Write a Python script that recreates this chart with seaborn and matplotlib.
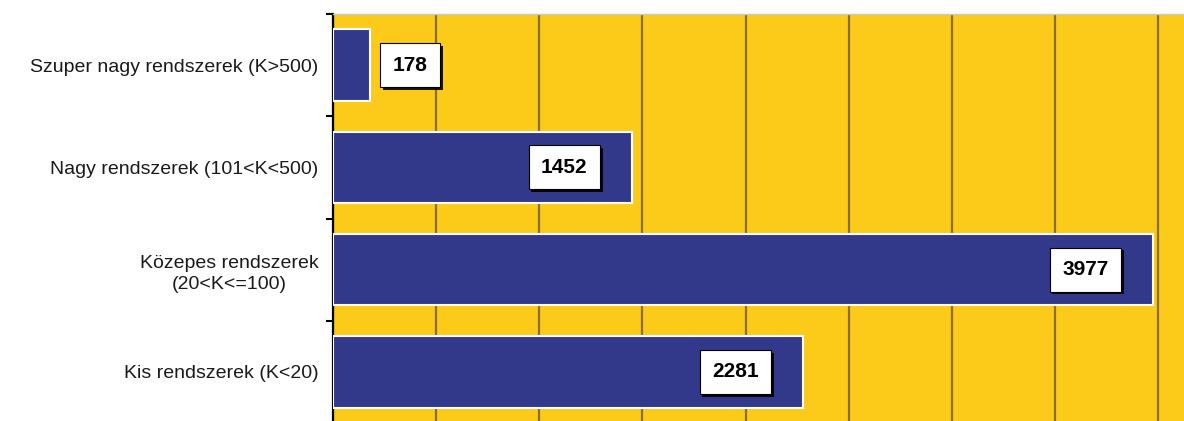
import matplotlib
matplotlib.use("Agg")
import matplotlib.pyplot as plt
import matplotlib.patheffects as pe
import numpy as np
import pandas as pd
import seaborn as sns

# adatok
categories = ["Szuper nagy rendszerek (K>500)",
              "Nagy rendszerek (101<K<500)",
              "Közepes rendszerek\n(20<K<=100)",
              "Kis rendszerek (K<20)"]
values = [178, 1452, 3977, 2281]
grid_step = 500
x_max = 4126

df = pd.DataFrame({"kategoria": categories, "db": values})

sns.set_style("white")
plt.rcParams["font.family"] = ["Liberation Sans", "DejaVu Sans"]

fig = plt.figure(figsize=(11.84, 4.21), dpi=100)
ax = fig.add_axes([333 / 1184, -2 / 421, 1 - 333 / 1184, 409 / 421])
ax.set_facecolor("#FCCB1A")

sns.barplot(data=df, x="db", y="kategoria", orient="h", color="#33398A",
            saturation=1, width=0.7, edgecolor="white", linewidth=1.5,
            ax=ax, zorder=3)

# racsvonalak
ax.set_xticks(np.arange(0, x_max, grid_step))
ax.set_xlim(0, x_max)
ax.xaxis.grid(True, color="#8A6E2A", linewidth=1.6)
ax.set_axisbelow(True)
ax.tick_params(axis="x", length=0, labelbottom=False)
ax.set_xlabel("")
ax.set_ylabel("")

# y tengely
ax.set_ylim(len(categories) - 0.5, -0.5)
ax.set_yticks(np.arange(-0.5, len(categories), 1), minor=True)
ax.tick_params(axis="y", which="major", left=False, pad=7,
               labelsize=14, labelcolor="#1a1a1a")
ax.tick_params(axis="y", which="minor", left=True, length=5, width=1.5,
               color="black", direction="out")
for lab in ax.get_yticklabels():
    lab.set_multialignment("center")
    lab.set_linespacing(1.35)

for side in ["right", "bottom"]:
    ax.spines[side].set_visible(False)
ax.spines["left"].set_color("black")
ax.spines["left"].set_linewidth(1.6)
ax.spines["top"].set_color("#C8C8C8")
ax.spines["top"].set_linewidth(1)

# ertekcimkek
for i, v in enumerate(values):
    off = -49 if v > 1000 else 29
    t = ax.annotate(f"{v}", xy=(v, i), xytext=(off, 0),
                    textcoords="offset points", ha="center", va="center",
                    fontsize=15, fontweight="bold", color="black",
                    bbox=dict(boxstyle="square,pad=0.6", fc="white",
                              ec="black", lw=0.8),
                    zorder=5)
    t.get_bbox_patch().set_path_effects([
        pe.SimplePatchShadow(offset=(2, -2), shadow_rgbFace="black", alpha=0.9),
        pe.Normal()])

fig.savefig("out.png", dpi=100)
